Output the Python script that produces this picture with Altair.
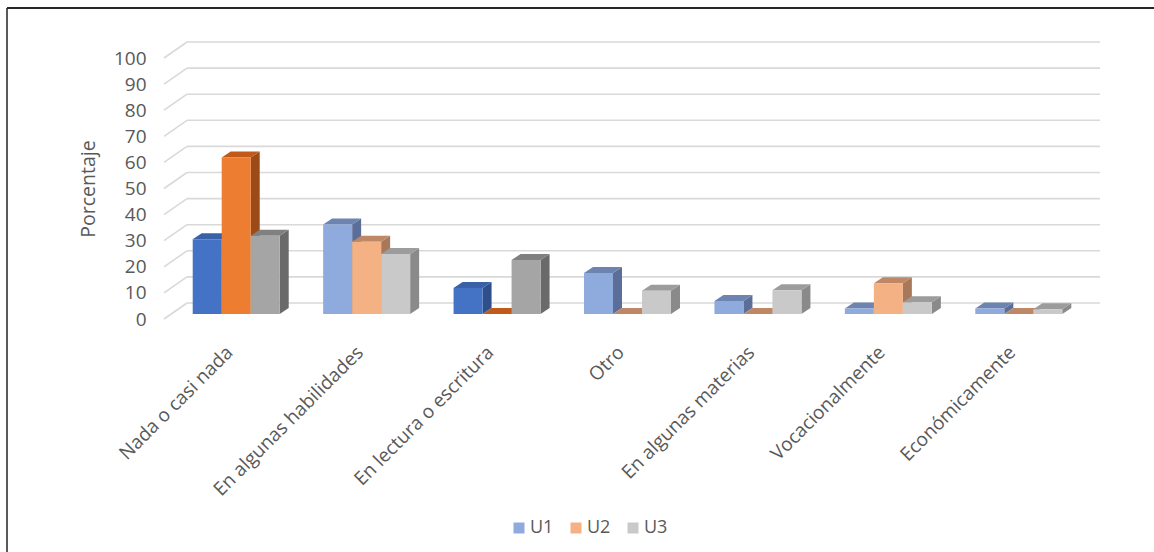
import json
import altair as alt
import pandas as pd

# ---- data -------------------------------------------------------------
categories = [
    "Nada o casi nada",
    "En algunas habilidades",
    "En lectura o escritura",
    "Otro",
    "En algunas materias",
    "Vocacionalmente",
    "Económicamente",
]
series = ["U1", "U2", "U3"]
u1 = [28.6, 34.3, 10.0, 15.7, 5.0, 2.1, 2.1]
u2 = [60.0, 27.7, 0.0, 0.0, 0.0, 11.8, 0.0]
u3 = [30.0, 23.0, 20.7, 8.9, 9.1, 4.5, 1.8]
# categories whose columns use the saturated tone
strong = ["Nada o casi nada", "En lectura o escritura"]
y_ticks = list(range(0, 101, 10))

# ---- styling ----------------------------------------------------------
FONT = "Open Sans"
TEXT = "#595959"
GRID = "#D9D9D9"
# (front, side, top) face colours per series and tone
palette = {
    ("U1", True): ("#4472C4", "#2E4F8C", "#3A60A8"),
    ("U2", True): ("#ED7D31", "#9C4A17", "#C0591A"),
    ("U3", True): ("#A5A5A5", "#6A6A6A", "#808080"),
    ("U1", False): ("#8FAADC", "#5A6E99", "#6D84B0"),
    ("U2", False): ("#F4B183", "#A8785A", "#BE8766"),
    ("U3", False): ("#C9C9C9", "#8A8A8A", "#9C9C9C"),
}
legend_colors = [palette[(s, False)][0] for s in series]

W, H = 913, 261                 # front plane of the 3-D box
PX = W / len(categories)        # pixels per category unit
PY = H / 100.0                  # pixels per percentage point

# oblique projection offsets in pixels (right, up)
BAR_W = 29
FRONT = (7, 5)       # front face of the columns behind the box front
DEPTH = (9, 6)       # depth of a column
WALL = (23, 16)      # back wall


def ux(px):
    return px / PX


def uy(px):
    return px / PY


values = {"U1": u1, "U2": u2, "U3": u3}
front_rows, side_rows, top_rows = [], [], []
for i, cat in enumerate(categories):
    tone = cat in strong
    for j, s in enumerate(series):
        v = values[s][i]
        fc, sc, tc = palette[(s, tone)]
        left = i + ux(-1.5 * BAR_W + j * BAR_W + FRONT[0])
        right = left + ux(BAR_W)
        base = uy(FRONT[1])
        top = v + base
        ddx, ddy = ux(DEPTH[0]), uy(DEPTH[1])
        bid = f"{i}-{s}"
        front_rows.append(dict(bar=bid, x=left, x2=right, y=base, y2=top, c=fc))
        side_rows += [
            dict(bar=bid, sx=right, sy=top, sy2=base, c=sc),
            dict(bar=bid, sx=right + ddx, sy=top + ddy, sy2=base + ddy, c=sc),
        ]
        top_rows += [
            dict(bar=bid, ty=top, tx=left, tx2=right, c=tc),
            dict(bar=bid, ty=top + ddy, tx=left + ddx, tx2=right + ddx, c=tc),
        ]

x0, x1 = -0.5, len(categories) - 0.5
wdx, wdy = ux(WALL[0]), uy(WALL[1])
back_rows = [dict(x=x0 + wdx, x2=x1 + wdx, y=t + wdy) for t in y_ticks]
side_wall_rows = []
for t in y_ticks:
    side_wall_rows += [dict(g=t, x=x0, y=t), dict(g=t, x=x0 + wdx, y=t + wdy)]

# ---- scales and axes --------------------------------------------------
xscale = alt.Scale(domain=[x0, x1], nice=False, zero=False)
yscale = alt.Scale(domain=[0, 100], nice=False, zero=False)
label_expr = json.dumps(categories, ensure_ascii=False) + "[datum.value]"
xaxis = alt.Axis(
    values=list(range(len(categories))), labelExpr=label_expr, title=None,
    domain=False, ticks=False, grid=False, labelAngle=-45, labelAlign="right",
    labelBaseline="middle", labelPadding=30, labelFont=FONT, labelFontSize=19,
    labelColor=TEXT, labelOverlap=False, labelBound=False, labelFlush=False,
    labelLimit=0,
)
yaxis = alt.Axis(
    values=y_ticks, title="Porcentaje", domain=False, ticks=False, grid=False,
    labelPadding=18, labelFont=FONT, labelFontSize=19, labelColor=TEXT,
    titleFont=FONT, titleFontSize=19.5, titleFontWeight="normal", titleColor=TEXT,
    titleAngle=-90, titleX=-70, titleY=H / 2, titleAlign="center",
    titleBaseline="alphabetic",
)


def X(field):
    return alt.X(field, type="quantitative", scale=xscale, axis=xaxis, stack=None)


def Y(field):
    return alt.Y(field, type="quantitative", scale=yscale, axis=yaxis, stack=None)


back = alt.Chart(pd.DataFrame(back_rows)).mark_rule(
    color=GRID, strokeWidth=1.6
).encode(x=X("x"), x2="x2", y=Y("y"))

wall = alt.Chart(pd.DataFrame(side_wall_rows)).mark_line(
    color=GRID, strokeWidth=1.6
).encode(x=X("x"), y=Y("y"), detail="g:N")

sides = alt.Chart(pd.DataFrame(side_rows)).mark_area(orient="vertical").encode(
    x=X("sx"), y=Y("sy"), y2="sy2", detail="bar:N",
    color=alt.Color("c:N", scale=None),
)

tops = alt.Chart(pd.DataFrame(top_rows)).mark_area(orient="horizontal").encode(
    y=Y("ty"), x=X("tx"), x2="tx2", detail="bar:N",
    color=alt.Color("c:N", scale=None),
)

fronts = alt.Chart(pd.DataFrame(front_rows)).mark_rect().encode(
    x=X("x"), x2="x2", y=Y("y"), y2="y2",
    color=alt.Color("c:N", scale=None),
)

legend_layer = alt.Chart(pd.DataFrame({"serie": series})).mark_square(
    opacity=0
).encode(
    fill=alt.Fill(
        "serie:N",
        scale=alt.Scale(domain=series, range=legend_colors),
        legend=alt.Legend(
            title=None, orient="none", legendX=346, legendY=461,
            direction="horizontal", columns=3, symbolType="square",
            symbolSize=121, symbolStrokeWidth=0, symbolOpacity=1,
            labelFont=FONT, labelFontSize=18, labelColor=TEXT,
            labelOffset=2, columnPadding=13, padding=0,
        ),
    ),
)

frame_src = pd.DataFrame({"k": [0]})
frame_left = alt.Chart(frame_src).mark_rule(color="#595959", strokeWidth=2).encode(
    x=alt.value(-157), y=alt.value(-50), y2=alt.value(H + 233)
)
frame_top = alt.Chart(frame_src).mark_rule(color="#262626", strokeWidth=2).encode(
    x=alt.value(-157), x2=alt.value(W + 77), y=alt.value(-50)
)

chart = (
    alt.layer(back, wall, sides, tops, fronts, legend_layer, frame_left, frame_top)
    .properties(
        width=W, height=H,
        autosize=alt.AutoSizeParams(type="none"),
        padding={"left": 164, "top": 58, "right": 77, "bottom": 233},
        background="white",
    )
    .configure_view(stroke=None)
)

chart.save("out.html", embed_options={"renderer": "svg", "actions": False})
